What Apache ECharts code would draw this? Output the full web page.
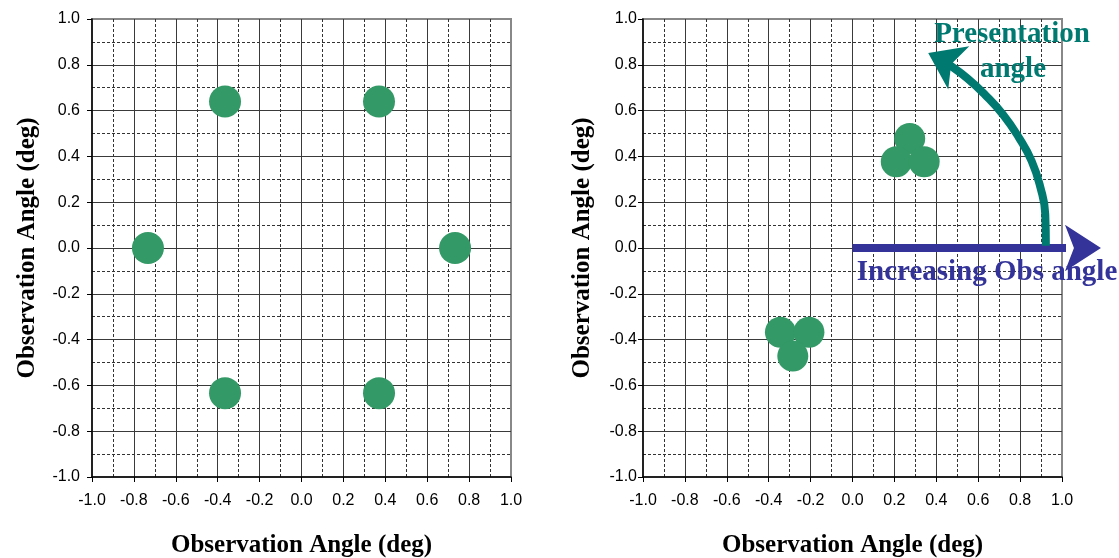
<!DOCTYPE html>
<html>
<head>
<meta charset="utf-8">
<title>Observation angle</title>
<script src="https://cdn.jsdelivr.net/npm/echarts@6/dist/echarts.min.js"></script>
<style>
  html, body { margin: 0; padding: 0; background: #fff; }
  #chart { width: 1119px; height: 558px; }
</style>
</head>
<body>
<div id="chart"></div>
<script>
// axis setup
const axisMin = -1.0
const axisMax = 1.0
const majorStep = 0.2
const axisTitle = 'Observation Angle (deg)'

// left panel: six spots around the centre
const leftX = [-0.365, 0.37, -0.733, 0.733, -0.365, 0.37]
const leftY = [0.64, 0.64, 0.0, 0.0, -0.634, -0.634]

// right panel: two clusters of three
const rightX = [0.273, 0.209, 0.342, -0.344, -0.208, -0.285]
const rightY = [0.478, 0.377, 0.377, -0.368, -0.368, -0.472]

// annotation arrows (right panel)
const obsArrowX = [0.0, 1.1]
const obsArrowY = [0.0, 0.0]
const presArcX = [0.923, 0.92, 0.897, 0.855, 0.795, 0.718, 0.632, 0.547, 0.462, 0.433]
const presArcY = [0.01, 0.148, 0.264, 0.38, 0.481, 0.583, 0.67, 0.742, 0.80, 0.819]

const green = '#339966'
const navy = '#333399'
const teal = '#007a70'
const noteFont = 'bold 29px "Liberation Serif"'

const tickFmt = v => (Math.abs(v) < 1e-9 ? 0 : v).toFixed(1)

function valueAxis(gridIndex, labelMargin, nameGap) {
  return {
    type: 'value',
    gridIndex: gridIndex,
    min: axisMin,
    max: axisMax,
    interval: majorStep,
    name: axisTitle,
    nameLocation: 'middle',
    nameGap: nameGap,
    nameTextStyle: {
      fontFamily: 'Liberation Serif',
      fontWeight: 'bold',
      fontSize: 25,
      color: '#000'
    },
    axisLine: { show: true, onZero: false, lineStyle: { color: '#000', width: 1.5 } },
    axisTick: { show: true, inside: false, length: 5, lineStyle: { color: '#000', width: 1 } },
    axisLabel: {
      margin: labelMargin,
      fontFamily: 'Liberation Sans',
      fontSize: 16,
      color: '#000',
      showMinLabel: true,
      showMaxLabel: true,
      formatter: tickFmt
    },
    splitLine: {
      show: true,
      showMinLine: false,
      showMaxLine: false,
      lineStyle: { color: '#3a3a3a', width: 1 }
    },
    minorTick: { show: false, splitNumber: 2 },
    minorSplitLine: {
      show: true,
      lineStyle: { color: '#333', width: 1, type: [3, 2] }
    }
  }
}

function pairs(xs, ys) {
  return xs.map((x, i) => [x, ys[i]])
}

// put an arrow head on the last point of a line
function withHead(points, size, rotate, offset) {
  return points.map((p, i) =>
    i === points.length - 1
      ? { value: p, symbol: 'arrow', symbolSize: size, symbolRotate: rotate, symbolOffset: offset }
      : { value: p, symbol: 'none' })
}

const gridBase = {
  top: 19,
  bottom: 81,
  show: true,
  borderColor: '#888',
  borderWidth: 2,
  backgroundColor: 'transparent',
  containLabel: false,
  outerBoundsMode: 'none'
}

const chart = echarts.init(document.getElementById('chart'), null, { renderer: 'canvas' })

chart.setOption({
  animation: false,
  backgroundColor: '#fff',
  grid: [
    Object.assign({ left: 92, right: 608 }, gridBase),
    Object.assign({ left: 643, right: 57 }, gridBase)
  ],
  xAxis: [
    valueAxis(0, 16, 56),
    valueAxis(1, 16, 56)
  ],
  yAxis: [
    valueAxis(0, 12, 52),
    valueAxis(1, 6, 48)
  ],
  series: [
    {
      name: 'left spots',
      type: 'scatter',
      xAxisIndex: 0,
      yAxisIndex: 0,
      symbol: 'circle',
      symbolSize: 32,
      itemStyle: { color: green, opacity: 1 },
      data: pairs(leftX, leftY)
    },
    {
      name: 'right spots',
      type: 'scatter',
      xAxisIndex: 1,
      yAxisIndex: 1,
      symbol: 'circle',
      symbolSize: 31,
      itemStyle: { color: green, opacity: 1 },
      data: pairs(rightX, rightY)
    },
    {
      name: 'Increasing Obs angle',
      type: 'line',
      xAxisIndex: 1,
      yAxisIndex: 1,
      clip: false,
      silent: true,
      symbol: 'none',
      lineStyle: { color: navy, width: 8, cap: 'butt' },
      itemStyle: { color: navy, borderWidth: 0 },
      data: withHead(pairs(obsArrowX, obsArrowY), [35, 36], -90, [18, 0]),
      z: 5
    },
    {
      name: 'Presentation angle',
      type: 'line',
      xAxisIndex: 1,
      yAxisIndex: 1,
      clip: false,
      silent: true,
      smooth: true,
      symbol: 'none',
      lineStyle: { color: teal, width: 8, cap: 'butt' },
      itemStyle: { color: teal, borderWidth: 0 },
      data: withHead(pairs(presArcX, presArcY), [36, 34], 64, [-15, -7.5]),
      z: 5
    }
  ],
  graphic: [
    {
      type: 'text', x: 1012, y: 35, z: 10,
      style: { text: 'Presentation', fill: teal, font: noteFont, align: 'center', verticalAlign: 'middle' }
    },
    {
      type: 'text', x: 1013, y: 70, z: 10,
      style: { text: 'angle', fill: teal, font: noteFont, align: 'center', verticalAlign: 'middle' }
    },
    {
      type: 'text', x: 987, y: 273, z: 10,
      style: { text: 'Increasing Obs angle', fill: navy, font: noteFont, align: 'center', verticalAlign: 'middle' }
    }
  ]
})
</script>
</body>
</html>
